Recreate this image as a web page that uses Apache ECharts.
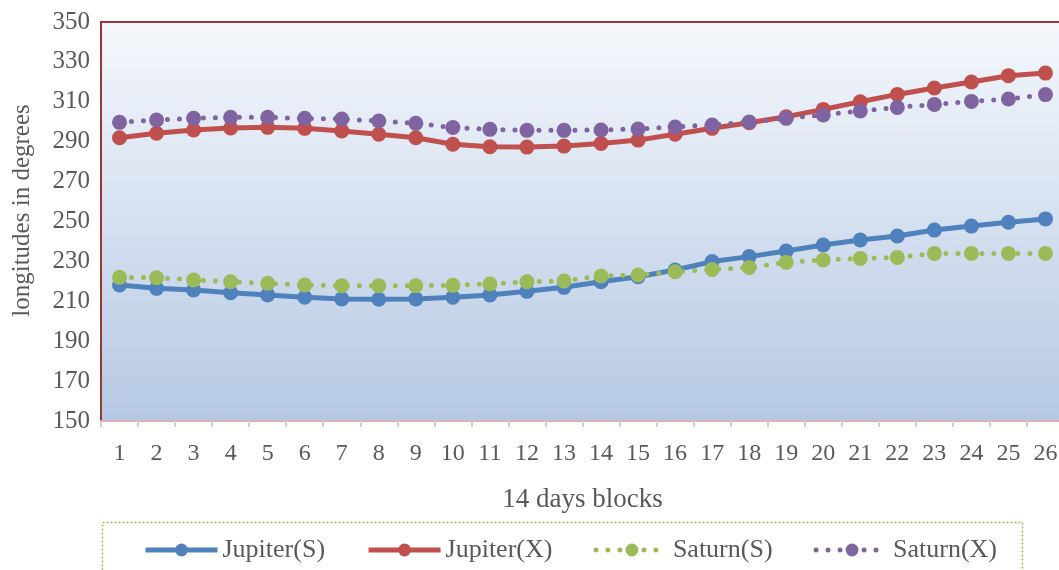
<!DOCTYPE html>
<html>
<head>
<meta charset="utf-8">
<script src="https://cdn.jsdelivr.net/npm/echarts@6/dist/echarts.min.js"></script>
<style>html,body{margin:0;padding:0;background:#fff}#c{width:1059px;height:570px}</style>
</head>
<body>
<div id="c"></div>
<script>
const categories = ['1','2','3','4','5','6','7','8','9','10','11','12','13','14','15','16','17','18','19','20','21','22','23','24','25','26'];
const jupiterS = [218.2,216.5,215.7,214.3,213.2,212,211.2,211,211.2,212,213.2,215,217,219.8,222.3,225.7,229.9,232.4,235.2,238.2,240.7,242.7,245.7,247.7,249.6,251.3];
const jupiterX = [292,294.2,295.9,296.9,297.2,296.7,295.4,293.7,292,288.7,287.5,287.3,287.8,289.1,290.8,293.7,296.7,299.5,302.5,306.2,310,313.7,316.9,319.9,323.1,324.4];
const saturnS = [222,221.8,220.7,219.8,219,218.2,217.8,217.8,217.8,218,218.7,219.8,220.2,222.7,223.2,224.8,226,227,229.5,230.7,231.5,232,234,234,234,234];
const saturnX = [299.7,300.9,301.7,302.2,302.2,301.7,301.4,300.4,299.2,297.1,296.2,295.7,295.7,295.9,296.4,297.4,298.4,299.9,301.7,303.4,305.4,307.2,308.7,310.2,311.4,313.6];
const seriesNames = ['Jupiter(S)','Jupiter(X)','Saturn(S)','Saturn(X)'];
const colors = ['#4f81bd','#c0504d','#9bbb59','#8064a2'];

const font = 'Liberation Serif';
const txt = '#595959';
const dotDash = [0, 12];
function mk(name, data, color, dotted) {
  return {
    name: name, type: 'line', data: data,
    symbol: 'circle', symbolSize: 15,
    itemStyle: { color: color },
    lineStyle: dotted ? { color: color, width: 5, type: dotDash, cap: 'round' } : { color: color, width: 5 },
    animation: false
  };
}
const chart = echarts.init(document.getElementById('c'));
chart.setOption({
  animation: false,
  grid: {
    left: 101, top: 22, width: 963, height: 399, show: true,
    outerBoundsMode: 'none', containLabel: false,
    borderColor: '#9b3634', borderWidth: 2,
    backgroundColor: { type: 'linear', x: 0, y: 0, x2: 0, y2: 1, colorStops: [{offset: 0, color: '#f5f8fc'}, {offset: 1, color: '#b5c8e3'}] }
  },
  xAxis: {
    type: 'category', data: categories, boundaryGap: true,
    axisLine: { lineStyle: { color: '#dcb0b0', width: 2 } },
    axisTick: { show: true, length: 6, lineStyle: { color: '#d0d0d0', width: 2 } },
    axisLabel: { fontFamily: font, fontSize: 24, color: txt, margin: 21 },
    name: '14 days blocks', nameLocation: 'middle', nameGap: 65,
    nameTextStyle: { fontFamily: font, fontSize: 27, color: txt }
  },
  yAxis: {
    type: 'value', min: 150, max: 350, interval: 20,
    axisLine: { show: true, lineStyle: { color: '#9b3634', width: 2 } },
    axisTick: { show: false },
    splitLine: { show: false },
    axisLabel: { fontFamily: font, fontSize: 25, color: txt, margin: 11 },
    name: 'longitudes in degrees', nameLocation: 'middle', nameGap: 66,
    nameTextStyle: { fontFamily: font, fontSize: 25, color: txt, padding: [0, 0, 0, 22] }
  },
  legend: {
    data: seriesNames, left: 138, top: 532, itemWidth: 72, itemHeight: 16, itemGap: 41,
    lineStyle: { width: 5 },
    textStyle: { fontFamily: font, fontSize: 26, color: txt }
  },
  graphic: [{
    type: 'rect', shape: { x: 102.5, y: 522.5, width: 920, height: 60 },
    style: { fill: 'none', stroke: '#9bbb59', lineWidth: 1.5, lineDash: [2, 2] }, silent: true
  }],
  series: [
    mk(seriesNames[0], jupiterS, colors[0], false),
    mk(seriesNames[1], jupiterX, colors[1], false),
    mk(seriesNames[2], saturnS, colors[2], true),
    mk(seriesNames[3], saturnX, colors[3], true)
  ]
});
</script>
</body>
</html>
